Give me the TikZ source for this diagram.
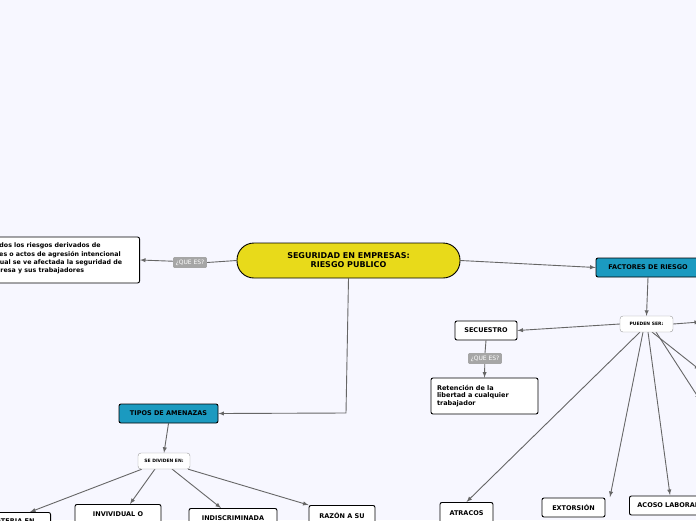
\documentclass[tikz,border=0pt]{standalone}
\usepackage{fontspec}
\setmainfont{DejaVu Sans}
\pgfdeclarelayer{bg}\pgfsetlayers{bg,main}
\begin{document}
\begin{tikzpicture}[x=1pt,y=-1pt,
 box/.style={draw=black,line width=0.9pt,fill=white,rounded corners=2pt,font=\bfseries\fontsize{6.5}{7.5}\selectfont,inner sep=0pt},
 teal/.style={draw=black,line width=0.9pt,fill=cyan!60!blue!70!black!90,rounded corners=2pt,font=\bfseries\fontsize{6}{7}\selectfont,inner sep=0pt},
 lbl/.style={fill=gray!70,text=white,font=\fontsize{6}{7}\selectfont,inner sep=2.5pt,rounded corners=1pt},
 small/.style={draw=gray!80,fill=white,rounded corners=3pt,font=\bfseries\fontsize{4.5}{5}\selectfont,inner sep=0pt},
 con/.style={draw=gray!80!black,line width=0.9pt,-latex}]
\useasboundingbox (0,0) rectangle (696,520);
\clip (0,0) rectangle (696,520);
\begin{pgfonlayer}{bg}\fill[blue!3] (0,0) rectangle (696,520);\end{pgfonlayer}
\definecolor{tl}{HTML}{1B9AC0}
\node[box,fill={rgb,255:red,232;green,218;blue,26},rounded corners=17pt,minimum width=223pt,minimum height=35pt,align=center,font=\bfseries\fontsize{8}{9}\selectfont] (c) at (348.5,260.5) {SEGURIDAD EN EMPRESAS:\\RIESGO PUBLICO};
\node[box,minimum width=230pt,minimum height=46pt,anchor=east] (def) at (140,260) {};
\node[font=\bfseries\fontsize{6.3}{8.3}\selectfont,align=left,anchor=north west] at (-27,239.5) {Son todos los riesgos derivados de\\acciones o actos de agresión intencional\\en el cual se ve afectada la seguridad de\\la empresa y sus trabajadores};
\node[lbl] (q1) at (190,262.5) {¿QUE ES?};
\node[box,fill=tl,minimum width=104pt,minimum height=19pt] (f) at (648,267.5) {FACTORES DE RIESGO};
\node[small,minimum width=53pt,minimum height=16pt] (p) at (646.5,324) {PUEDEN SER:};
\node[box,minimum width=62pt,minimum height=19pt] (s) at (486,330.5) {SECUESTRO};
\node[lbl] (q2) at (485,358.5) {¿QUE ES?};
\node[box,minimum width=107pt,minimum height=36pt,align=left,text width=95pt] (r) at (484.5,396) {Retención de la\\libertad a cualquier\\trabajador};
\node[box,fill=tl,minimum width=99pt,minimum height=19pt] (t) at (168.5,413.5) {TIPOS DE AMENAZAS};
\node[small,minimum width=52pt,minimum height=16pt] (d) at (164,461) {SE DIVIDEN EN:};
\node[box,minimum width=100pt,minimum height=30pt,anchor=north east] (b1) at (51,512) {};
\node[font=\bfseries\fontsize{6.5}{7}\selectfont,anchor=north east] at (38,515) {MATERIA EN};
\node[box,minimum width=86pt,minimum height=30pt,anchor=north] (b2) at (118,504) {};
\node[font=\bfseries\fontsize{6.5}{7}\selectfont,anchor=north] at (118,508) {INVIVIDUAL O};
\node[box,minimum width=88pt,minimum height=30pt,anchor=north] (b3) at (233,508) {};
\node[font=\bfseries\fontsize{6.5}{7}\selectfont,anchor=north] at (233,512) {INDISCRIMINADA};
\node[box,minimum width=66pt,minimum height=30pt,anchor=north] (b4) at (342,505) {};
\node[font=\bfseries\fontsize{6.5}{7}\selectfont,anchor=north] at (342,509) {RAZÓN A SU};
\node[box,minimum width=53pt,minimum height=22pt,anchor=north] (a1) at (466.5,502) {ATRACOS};
\node[box,minimum width=63pt,minimum height=19pt] (a2) at (573.5,507.5) {EXTORSIÓN};
\node[box,minimum width=72pt,minimum height=19pt,anchor=west,text width=68pt,align=left] (a3) at (629,505.5) {\hspace*{6pt}ACOSO LABORAL};
\coordinate (e1) at (700,322); \coordinate (e2) at (700,370); \coordinate (e3) at (700,400);
\begin{pgfonlayer}{bg}
\draw[con] (c.west) -- (q1.east) -- (def.east);
\draw[con] (c.east) -- (f.west);
\draw[con] (c.south) -- (346,413) -- (t.east);
\draw[con] (f.south) -- (p.north);
\draw[con] (p.west) -- (s.east);
\draw[con] (s.south) -- (q2.north) -- (r.north);
\draw[con] (t.south) -- (d.north);
\draw[con] (d.south west) ++(4,0) -- (30,512);
\draw[con] (155,469) -- (130,504);
\draw[con] (172,469) -- (221,508);
\draw[con] (d.south east) ++(-2,0) -- (b4.north west);
\draw[con] (640,332) -- (a1.north);
\draw[con] (643,332) -- (610,497);
\draw[con] (648,332) -- (670,495);
\draw[con] (p.east) -- (e1);
\draw[con] (652,332) -- (e2);
\draw[con] (656,332) -- (e3);
\end{pgfonlayer}
\end{tikzpicture}
\end{document}
